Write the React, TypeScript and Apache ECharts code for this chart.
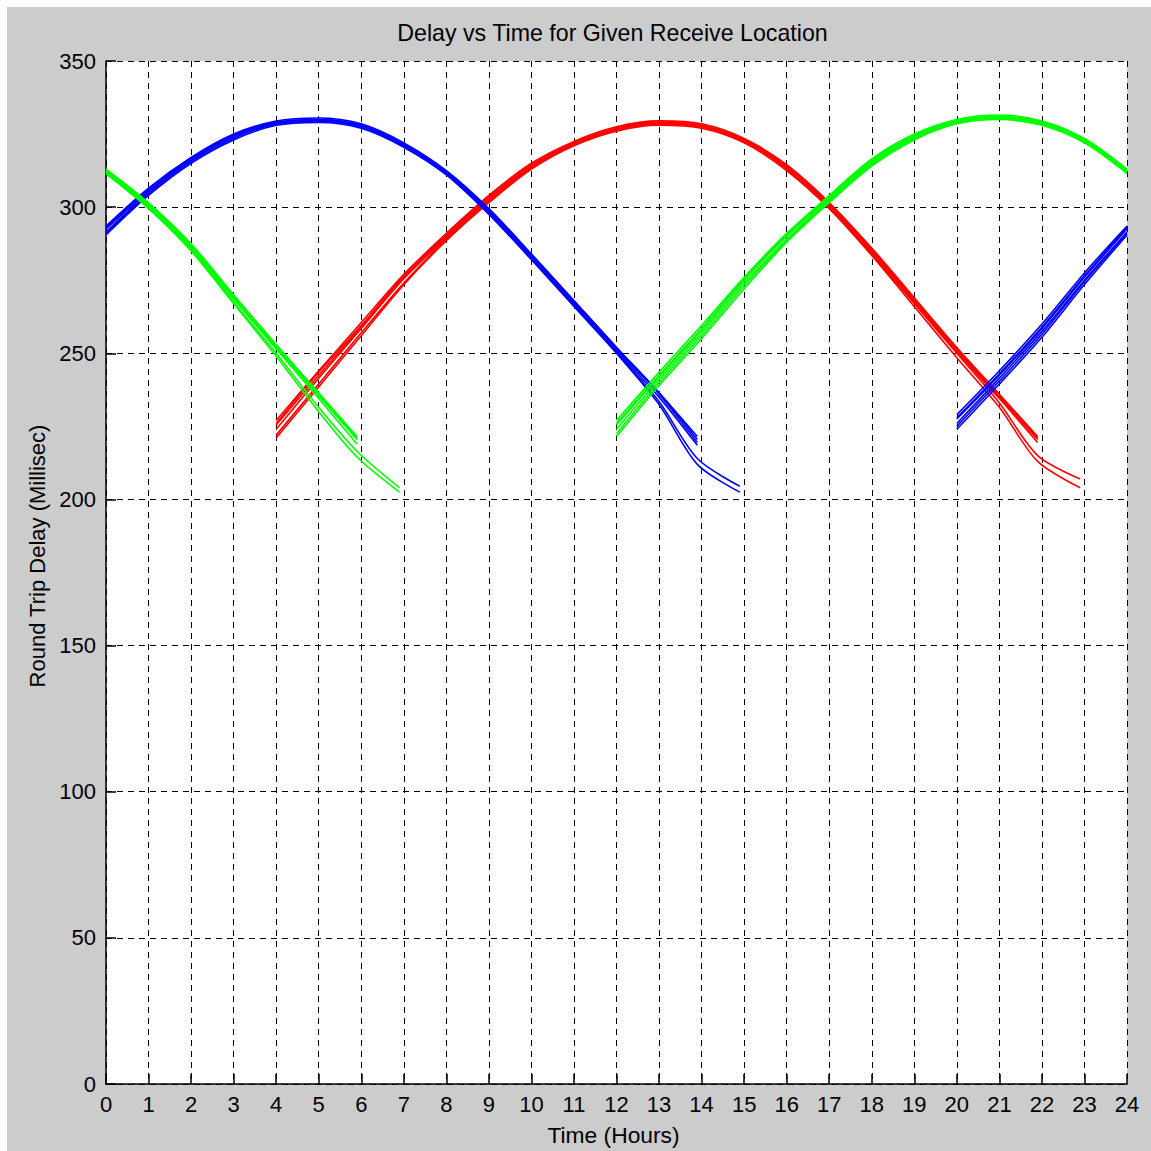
import React, { useEffect, useRef } from "react";
import * as echarts from "echarts";

// ---- Axis ticks ----
const xTicks = [0, 24];
const yTicks = [0, 350];

// ---- Red satellite (main lines x = 4..22, extended lines x = 4..23) ----
const redX = [4, 5, 6, 7, 8, 9, 10, 11, 12, 13, 14, 15, 16, 17, 18, 19, 20, 21, 21.9];
const redXExt = [4, 5, 6, 7, 8, 9, 10, 11, 12, 13, 14, 15, 16, 17, 18, 19, 20, 21, 21.9, 22.9];
const red1 = [227, 244, 260.5, 277, 291, 304, 315, 322.5, 327.5, 329.5, 328.5, 323.5, 314.5, 301.5, 286, 269, 252, 236, 221.5];
const red2 = [225.5, 242.5, 259, 276, 290, 303, 314, 322, 327, 329, 328, 323, 314, 301, 285, 268, 251, 235, 220.5];
const red3 = [224, 241.5, 258.5, 275.5, 289.5, 302.5, 313.5, 321.5, 326.5, 328.5, 327.5, 322.5, 313.5, 300.5, 284.5, 267.5, 250.5, 234.5, 219.5];
const red4 = [226, 243.5, 259.5, 276.5, 290.5, 303.5, 314.5, 322, 327, 329, 328, 323, 314, 301.5, 285.5, 268.5, 251.5, 235.5, 221];
const red5 = [222, 239.5, 257, 274, 289, 302, 313.5, 321.5, 326.5, 328.5, 327.5, 322.5, 313, 300, 284, 267, 250, 233, 215, 207];
const red6 = [221, 238.5, 256, 273.5, 288.5, 301.5, 313, 321, 326, 328, 327, 322, 312.5, 299.5, 283.5, 266, 248.5, 231.5, 213, 204];

// ---- Blue satellite (x = 20..24, then 0..14 / 0..15) ----
const bluePreX = [20, 21, 22, 23, 24];
const bluePostX = [0, 1, 2, 3, 4, 5, 6, 7, 8, 9, 10, 11, 12, 13, 13.9];
const bluePostXExt = [0, 1, 2, 3, 4, 5, 6, 7, 8, 9, 10, 11, 12, 13, 13.9, 14.9];
const blue1Pre = [229, 244, 260, 277.5, 293.5];
const blue1Post = [293.5, 306.5, 317, 325, 329.5, 330.5, 328.5, 322, 312.5, 299.5, 284, 268, 252, 236.5, 220.5];
const blue2Pre = [227.5, 242.5, 258.5, 276, 292.5];
const blue2Post = [292.5, 305.5, 316.5, 324.5, 329, 330, 328, 321.5, 312, 299, 283.5, 267.5, 251.5, 236, 219.5];
const blue3Pre = [226, 241.5, 257.5, 275, 291.5];
const blue3Post = [291.5, 305, 316, 324, 328.5, 329.5, 327.5, 321, 311.5, 298.5, 283, 267, 251, 235, 218.5];
const blue4Pre = [228, 243, 259, 276.5, 293];
const blue4Post = [293, 306, 316.5, 324.5, 329, 330, 328, 321.5, 312, 299, 283.5, 268, 252, 236.5, 221.5];
const blue5Pre = [225, 240.5, 256.5, 274.5, 291];
const blue5Post = [291, 304.5, 315.5, 323.5, 328.5, 329.5, 327.5, 321, 311.5, 298, 282.5, 266.5, 250.5, 233.5, 214, 204.5];
const blue6Pre = [224, 239.5, 255.5, 273.5, 290.5];
const blue6Post = [290.5, 304, 315, 323, 328, 329, 327, 320.5, 311, 297.5, 282, 266, 250, 232.5, 212, 202.5];

// ---- Green satellite (x = 12..24, then 0..6 / 0..7) ----
const greenPreX = [12, 13, 14, 15, 16, 17, 18, 19, 20, 21, 22, 23, 24];
const greenPostX = [0, 1, 2, 3, 4, 5, 5.9];
const greenPostXExt = [0, 1, 2, 3, 4, 5, 5.9, 6.9];
const green1Pre = [227, 243.5, 259.5, 276, 291, 304, 316.5, 325, 330, 331.5, 329.5, 323.5, 313];
const green1Post = [313, 301.5, 287.5, 270, 253, 236.5, 221.5];
const green2Pre = [225.5, 242, 258, 275, 290, 303, 315.5, 324.5, 329.5, 331, 329, 323, 312.5];
const green2Post = [312.5, 301, 286.5, 269, 252, 235.5, 220.5];
const green3Pre = [224, 241, 257, 274, 289, 302.5, 315, 324, 329, 330.5, 328.5, 322.5, 312];
const green3Post = [312, 300.5, 286, 268.5, 251.5, 234.5, 219];
const green4Pre = [226, 242.5, 258.5, 275.5, 290.5, 303.5, 316, 324.5, 329.5, 331, 329, 323, 312.5];
const green4Post = [312.5, 301, 287, 269.5, 252.5, 236, 221];
const green5Pre = [222.5, 240, 256, 273, 288.5, 302, 314.5, 323.5, 329, 330.5, 328.5, 322.5, 312];
const green5Post = [312, 300, 285.5, 267.5, 250, 231.5, 216.5, 204];
const green6Pre = [221.5, 239, 255, 272, 288, 301.5, 314, 323, 328.5, 330, 328, 322, 311.5];
const green6Post = [311.5, 299.5, 285, 267, 249, 230, 214.5, 202.5];

const RED = "#ff0000";
const BLUE = "#0000ff";
const GREEN = "#00ff00";
const FONT = "Liberation Sans, Arial, sans-serif";

function line(color: string, xs: number[], ys: number[]) {
  return {
    type: "line",
    data: xs.map((x, i) => [x, ys[i]]),
    symbol: "none",
    showSymbol: false,
    smooth: 0.3,
    silent: true,
    lineStyle: { color, width: 1.6 },
  };
}

export default function App() {
  const ref = useRef<HTMLDivElement>(null);
  useEffect(() => {
    if (!ref.current) return;
    const chart = echarts.init(ref.current, undefined, { renderer: "svg" });
    const series = [
      line(RED, redX, red1),
      line(RED, redX, red2),
      line(RED, redX, red3),
      line(RED, redX, red4),
      line(RED, redXExt, red5),
      line(RED, redXExt, red6),
      line(BLUE, bluePreX, blue1Pre),
      line(BLUE, bluePostX, blue1Post),
      line(BLUE, bluePreX, blue2Pre),
      line(BLUE, bluePostX, blue2Post),
      line(BLUE, bluePreX, blue3Pre),
      line(BLUE, bluePostX, blue3Post),
      line(BLUE, bluePreX, blue4Pre),
      line(BLUE, bluePostX, blue4Post),
      line(BLUE, bluePreX, blue5Pre),
      line(BLUE, bluePostXExt, blue5Post),
      line(BLUE, bluePreX, blue6Pre),
      line(BLUE, bluePostXExt, blue6Post),
      line(GREEN, greenPreX, green1Pre),
      line(GREEN, greenPostX, green1Post),
      line(GREEN, greenPreX, green2Pre),
      line(GREEN, greenPostX, green2Post),
      line(GREEN, greenPreX, green3Pre),
      line(GREEN, greenPostX, green3Post),
      line(GREEN, greenPreX, green4Pre),
      line(GREEN, greenPostX, green4Post),
      line(GREEN, greenPreX, green5Pre),
      line(GREEN, greenPostXExt, green5Post),
      line(GREEN, greenPreX, green6Pre),
      line(GREEN, greenPostXExt, green6Post),
    ];
    const dashed = { color: "#000", width: 1, type: [6, 5] as any };
    chart.setOption({
      animation: false,
      backgroundColor: "#cccccc",
      textStyle: { fontFamily: FONT },
      grid: {
        left: 99,
        top: 54,
        right: 24,
        bottom: 67,
        show: true,
        backgroundColor: "#ffffff",
        borderWidth: 0,
      },
      graphic: [
        {
          type: "text",
          x: 605.5,
          y: 26,
          style: {
            text: "Delay vs Time for Given Receive Location",
            fill: "#000",
            font: `23.2px ${FONT}`,
            textAlign: "center",
            textVerticalAlign: "middle",
          },
        },
        {
          type: "text",
          x: 606.5,
          y: 1128,
          style: {
            text: "Time (Hours)",
            fill: "#000",
            font: `22.8px ${FONT}`,
            textAlign: "center",
            textVerticalAlign: "middle",
          },
        },
        {
          type: "text",
          x: 30.5,
          y: 549,
          rotation: Math.PI / 2,
          style: {
            text: "Round Trip Delay (Millisec)",
            fill: "#000",
            font: `22px ${FONT}`,
            textAlign: "center",
            textVerticalAlign: "middle",
          },
        },
      ],
      xAxis: {
        type: "value",
        min: xTicks[0],
        max: xTicks[1],
        interval: 1,
        axisLine: { show: true, onZero: false, lineStyle: { color: "#000", width: 1.5 } },
        axisTick: { show: true, inside: true, length: 10, lineStyle: { color: "#000", width: 1.5 } },
        axisLabel: { color: "#000", fontSize: 22, fontFamily: FONT, margin: 9 },
        splitLine: { show: true, lineStyle: dashed },
      },
      yAxis: {
        type: "value",
        min: yTicks[0],
        max: yTicks[1],
        interval: 50,
        axisLine: { show: true, onZero: false, lineStyle: { color: "#000", width: 1.5 } },
        axisTick: { show: true, inside: true, length: 10, lineStyle: { color: "#000", width: 1.5 } },
        axisLabel: { color: "#000", fontSize: 22, fontFamily: FONT, margin: 10 },
        splitLine: { show: true, lineStyle: dashed },
      },
      series,
    });
    return () => chart.dispose();
  }, []);
  return (
    <div
      ref={ref}
      style={{ position: "absolute", left: 7, top: 7, width: 1144, height: 1144 }}
    />
  );
}
